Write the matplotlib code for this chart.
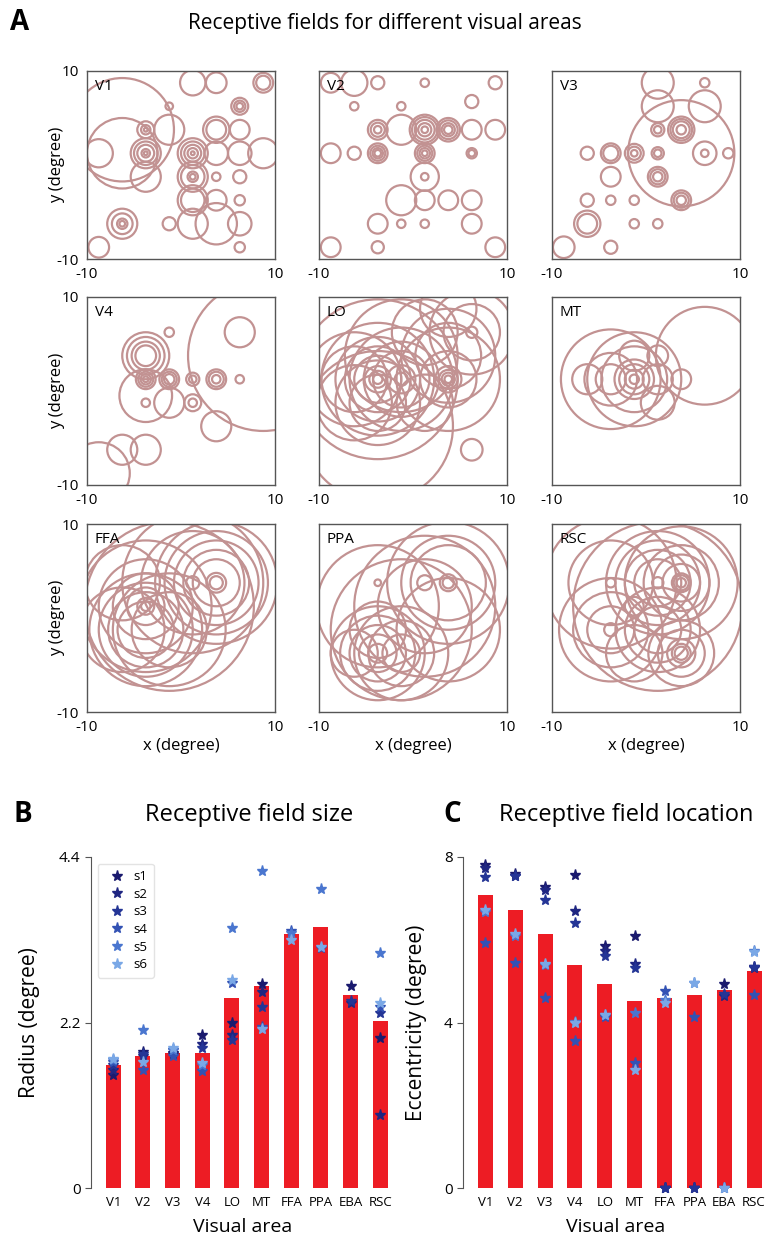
import numpy as np
import matplotlib
matplotlib.use("Agg")
from matplotlib import pyplot as plt
from matplotlib.patches import Circle

plt.rcParams['font.family'] = ['Open Sans', 'DejaVu Sans']

# receptive fields: (x centre, y centre, [radii]) in degrees
rf_V1 = [(-6.25, 3.75, [5.5]), (-6.25, 1.25, [3.75]), (-8.75, 1.25, [1.5]),
         (-3.75, 3.75, [0.9, 0.5, 0.2]), (-1.25, 3.75, [1.6]), (-1.25, 6.25, [0.4]),
         (-3.75, 1.25, [1.6, 1.25, 0.9, 0.45, 0.2]), (-3.75, -1.25, [1.6]),
         (1.25, 8.75, [1.35]), (3.75, 8.75, [1.1]), (8.75, 8.75, [1.05, 0.75]),
         (6.25, 6.25, [0.9, 0.6, 0.35]), (3.75, 3.75, [1.4, 1.05]), (6.25, 3.75, [1.05]),
         (1.25, 1.25, [1.6, 1.25, 0.9, 0.55, 0.2]), (3.75, 1.25, [1.25]),
         (6.25, 1.25, [1.25]), (8.75, 1.25, [1.6]), (1.25, -1.25, [1.6, 1.25, 0.55, 0.3]),
         (3.75, -1.25, [0.45]), (6.25, -1.25, [0.7]), (1.25, -3.75, [1.6, 1.25]),
         (3.75, -3.75, [1.1]), (6.25, -3.75, [0.55]), (3.75, -6.25, [2.2]),
         (1.25, -6.25, [1.6]), (-1.25, -6.25, [0.7]), (6.25, -6.25, [1.25]),
         (6.25, -8.75, [0.55]), (-6.25, -6.25, [1.6, 1.1, 0.55, 0.3]), (-8.75, -8.75, [1.1])]
rf_V2 = [(-8.75, 8.75, [1.05]), (-6.25, 8.75, [1.4]), (-3.75, 8.75, [0.7]),
         (1.25, 8.75, [0.45]), (8.75, 8.75, [0.7]), (-6.25, 6.25, [0.45]),
         (-1.25, 6.25, [0.45]), (6.25, 6.75, [0.7]), (-3.75, 3.75, [1.05, 0.75, 0.4]),
         (-1.25, 3.75, [1.6]), (1.25, 3.75, [1.6, 1.35, 1.05, 0.7, 0.35]),
         (3.75, 3.75, [1.25, 1.0, 0.7, 0.45]), (6.25, 3.75, [1.05]), (8.75, 3.75, [1.05]),
         (-8.75, 1.25, [1.05]), (-6.25, 1.25, [0.7]), (-3.75, 1.25, [1.05, 0.8, 0.55, 0.35]),
         (1.25, 1.25, [1.05, 0.8, 0.55, 0.3]), (6.25, 1.25, [0.55, 0.35]),
         (1.25, -1.25, [1.5, 0.4]), (-1.25, -3.75, [1.6]), (1.25, -3.75, [1.05]),
         (3.75, -3.75, [1.05]), (6.25, -3.75, [1.05]), (-3.75, -6.25, [1.05]),
         (-1.25, -6.25, [0.45]), (1.25, -6.25, [0.45]), (6.25, -6.25, [1.05]),
         (-8.75, -8.75, [1.05]), (-3.75, -8.75, [0.65]), (8.75, -8.75, [1.05])]
rf_V3 = [(1.25, 8.75, [1.7]), (6.25, 8.75, [0.5]), (1.25, 6.25, [1.7]), (6.25, 6.25, [1.7]),
         (3.75, 1.25, [5.65]), (1.25, 3.75, [0.7, 0.4]), (3.75, 3.75, [1.4, 1.15, 0.9, 0.5]),
         (-6.25, 1.25, [0.7]), (-3.75, 1.25, [1.05, 0.8]), (-1.25, 1.25, [1.0, 0.7, 0.35]),
         (1.25, 1.25, [0.65, 0.4]), (6.25, 1.25, [1.25, 0.4]), (8.75, 1.25, [0.55]),
         (-3.75, -1.25, [1.05]), (1.25, -1.25, [1.05, 0.8, 0.5]), (-6.25, -3.75, [0.7]),
         (-3.75, -3.75, [0.5]), (-1.25, -3.75, [0.5]), (3.75, -3.75, [1.05, 0.8, 0.5]),
         (-6.25, -6.25, [1.4, 1.05]), (-1.25, -6.25, [0.5]), (1.25, -6.25, [0.5]),
         (-8.75, -8.75, [1.15]), (-3.75, -8.75, [0.7])]
rf_V4 = [(8.75, 3.75, [8.0]), (6.25, 6.25, [1.6]), (-1.25, 6.25, [0.5]),
         (-3.75, 3.75, [2.5, 2.0, 1.5, 1.1]), (-3.75, 1.25, [1.05, 0.8, 0.55, 0.3]),
         (-1.25, 1.25, [1.05, 0.8, 0.55]), (1.25, 1.25, [0.7, 0.4]),
         (3.75, 1.25, [1.05, 0.8, 0.45]), (6.25, 1.25, [0.45]), (-3.75, -0.5, [2.8]),
         (-3.75, -1.25, [0.45]), (-1.25, -1.25, [1.6]), (1.25, -1.25, [0.9, 0.45]),
         (3.75, -3.75, [1.6]), (-6.25, -6.25, [1.6]), (-3.75, -6.25, [1.6]),
         (-8.75, -8.75, [3.3])]
rf_LO = [(-3.75, 1.25, [0.5, 0.9, 1.4, 2.5, 3.5, 4.5, 6.0, 8.5]),
         (-1.25, 1.25, [0.7, 1.5, 3.0, 4.0, 5.5]),
         (3.75, 1.25, [0.4, 0.7, 1.0, 1.4, 3.0, 5.5]), (3.75, 3.75, [3.5, 5.0]),
         (6.25, 6.25, [0.6, 3.0, 4.5]), (1.25, 6.25, [3.5]), (3.75, 8.75, [3.0]),
         (-3.75, -1.25, [3.0, 4.5]), (-6.25, 1.25, [3.5, 5.0]), (-1.25, 3.75, [6.0]),
         (-6.25, -1.25, [4.0]), (6.25, -6.25, [1.15]), (1.25, -1.25, [3.0]),
         (-3.75, -3.75, [8.0])]
rf_MT = [(6.25, 3.75, [5.2]), (-3.75, 1.25, [5.3, 2.8, 1.6]),
         (-1.25, 1.25, [5.0, 3.5, 2.1, 1.6, 1.0, 0.5]), (-6.25, 1.25, [1.6]),
         (1.25, 1.25, [1.6]), (3.75, 1.25, [1.05]), (-1.25, 3.75, [1.6]),
         (1.25, 3.75, [1.1]), (1.25, -1.25, [1.8])]
rf_FFA = [(1.25, 3.75, [0.7, 5.5, 7.5]), (3.75, 3.75, [0.7, 1.05, 2.5, 3.5, 4.5, 5.5, 6.5]),
          (-3.75, 1.25, [0.5, 0.9, 2.0, 3.5, 5.0, 7.0]), (-3.75, -1.25, [3.0, 4.0, 5.0, 6.0]),
          (-6.25, -1.25, [4.5]), (-1.25, -1.25, [4.0, 6.0]), (-1.25, 1.25, [9.0]),
          (-6.25, 3.75, [4.0])]
rf_PPA = [(-3.75, 3.75, [0.35]), (1.25, 3.75, [0.8]), (3.75, 3.75, [0.9, 0.6, 4.0, 5.0, 6.5]),
          (-3.75, 1.25, [6.5]), (1.25, 1.25, [5.0, 7.5]),
          (-3.75, -3.75, [1.0, 2.0, 3.0, 4.0, 5.0]), (-1.25, -3.75, [2.0, 3.5, 5.0]),
          (-6.25, -3.75, [2.5]), (-1.25, -1.25, [7.5]), (3.75, -1.25, [5.5]),
          (-3.75, -1.25, [3.0])]
rf_RSC = [(-3.75, 3.75, [0.5, 4.5, 7.0]), (1.25, 3.75, [0.6, 2.5, 3.5, 4.5, 5.5]),
          (3.75, 3.75, [0.5, 0.8, 1.0, 2.0, 3.0, 4.0, 6.0]), (1.25, -1.25, [2.5, 3.5, 4.5]),
          (-3.75, -1.25, [0.7, 2.5, 4.0, 5.5]), (3.75, -3.75, [0.7, 1.0, 1.5, 2.5, 3.5]),
          (-1.25, -3.75, [3.0]), (1.25, 1.25, [9.0]), (-1.25, 1.25, [1.0])]

rf_names = ['V1', 'V2', 'V3', 'V4', 'LO', 'MT', 'FFA', 'PPA', 'RSC']
rf_all = [rf_V1, rf_V2, rf_V3, rf_V4, rf_LO, rf_MT, rf_FFA, rf_PPA, rf_RSC]

areas = ['V1', 'V2', 'V3', 'V4', 'LO', 'MT', 'FFA', 'PPA', 'EBA', 'RSC']
radius_mean = [1.63, 1.76, 1.79, 1.80, 2.52, 2.69, 3.37, 3.47, 2.57, 2.22]
ecc_mean = [7.07, 6.73, 6.14, 5.40, 4.94, 4.51, 4.59, 4.67, 4.79, 5.25]

nan = np.nan
subjects = ['s1', 's2', 's3', 's4', 's5', 's6']
radius_subj = {
    's1': [1.50, 1.81, 1.80, 2.03, 2.19, 2.71, nan, nan, 2.68, 1.99],
    's2': [1.57, 1.75, 1.78, 1.92, 2.03, 2.60, nan, nan, 2.46, 0.97],
    's3': [1.63, 1.78, 1.83, 1.86, 1.97, 2.40, nan, nan, 2.48, 2.32],
    's4': [1.67, 1.57, 1.76, 1.56, 2.73, 2.14, 3.41, 3.19, nan, 2.40],
    's5': [1.70, 2.10, 1.84, 1.64, 3.46, 4.22, 3.39, 3.97, nan, 3.13],
    's6': [1.71, 1.67, 1.86, 1.66, 2.76, 2.12, 3.30, 3.21, nan, 2.46],
}
ecc_subj = {
    's1': [7.81, 7.59, 7.27, 7.57, 5.85, 6.10, 0.0, 0.0, 4.93, 5.35],
    's2': [7.73, 7.55, 7.21, 6.69, 5.72, 5.41, 0.0, 0.0, 4.65, 5.31],
    's3': [7.52, 7.53, 6.95, 6.40, 5.60, 5.31, 0.0, 0.0, 4.70, 5.33],
    's4': [5.92, 5.44, 4.59, 3.56, 4.13, 3.02, 4.77, 4.13, 0.0, 4.67],
    's5': [6.67, 6.08, 5.39, 4.01, 4.17, 4.24, 4.55, 4.95, 0.0, 5.72],
    's6': [6.72, 6.15, 5.42, 4.00, 4.19, 2.85, 4.48, 4.95, 0.0, 5.70],
}
subj_colors = ['#1a1a6e', '#1f2682', '#243596', '#3352b4', '#4a76cf', '#7aa8e6']

W, H = 771, 1247
fig = plt.figure(figsize=(W / 100, H / 100), dpi=100)

def ax_px(left, top, w, h):
    return fig.add_axes([left / W, 1 - (top + h) / H, w / W, h / H])

col_left = [87, 319, 552]
row_top = [71, 297, 524]
box = 188
circ_col = '#c29292'

for k, (name, rf) in enumerate(zip(rf_names, rf_all)):
    r_i, c_i = divmod(k, 3)
    ax = ax_px(col_left[c_i], row_top[r_i], box, box)
    for cx, cy, radii in rf:
        for rr in radii:
            ax.add_patch(Circle((cx, cy), rr, fill=False, ec=circ_col, lw=1.6))
    ax.set_xlim(-10, 10)
    ax.set_ylim(-10, 10)
    ax.set_aspect('equal')
    for s in ax.spines.values():
        s.set_color('#555555')
        s.set_linewidth(1.0)
    ax.set_xticks([-10, 10])
    ax.set_xticklabels(['-10', '10'], fontsize=11)
    ax.tick_params(length=0, pad=6)
    if c_i == 0:
        ax.set_yticks([-10, 10])
        ax.set_yticklabels(['-10', '10'], fontsize=11)
        ax.set_ylabel('y (degree)', fontsize=12, labelpad=-6)
    else:
        ax.set_yticks([])
    if r_i == 2:
        ax.set_xlabel('x (degree)', fontsize=12, labelpad=2)
    ax.text(0.04, 0.96, name, transform=ax.transAxes, ha='left', va='top', fontsize=11)

fig.text(385 / W, 1 - 24 / H, 'Receptive fields for different visual areas',
         ha='center', va='center', fontsize=15)
fig.text(10 / W, 1 - 22 / H, 'A', ha='left', va='center', fontsize=20, fontweight='bold')
fig.text(14 / W, 1 - 815 / H, 'B', ha='left', va='center', fontsize=20, fontweight='bold')
fig.text(443 / W, 1 - 815 / H, 'C', ha='left', va='center', fontsize=20, fontweight='bold')
fig.text(249 / W, 1 - 815 / H, 'Receptive field size', ha='center', va='center', fontsize=17)
fig.text(626 / W, 1 - 815 / H, 'Receptive field location', ha='center', va='center',
         fontsize=17)

x = np.arange(len(areas))

def bar_panel(ax, means, subj, ymax, yticks, yticklabels, ylabel, legend, lpad):
    ax.bar(x, means, width=0.5, color='#ed1c24', zorder=1)
    for c, s in zip(subj_colors, subjects):
        ax.plot(x, subj[s], ls='none', marker='*', ms=8, color=c, mec=c, label=s,
                zorder=3, clip_on=False)
    ax.set_xlim(-0.75, 9.5)
    ax.set_ylim(0, ymax)
    ax.set_yticks(yticks)
    ax.set_yticklabels(yticklabels, fontsize=11)
    ax.set_xticks(x)
    ax.set_xticklabels(areas, fontsize=9.5)
    ax.tick_params(axis='x', length=0, pad=6)
    ax.tick_params(axis='y', length=4, color='#555555')
    for sp in ['top', 'right', 'bottom']:
        ax.spines[sp].set_visible(False)
    ax.spines['left'].set_color('#555555')
    ax.set_ylabel(ylabel, fontsize=15, labelpad=lpad)
    ax.set_xlabel('Visual area', fontsize=14, labelpad=6)
    if legend:
        ax.legend(loc='upper left', fontsize=9.5, handletextpad=0.2, borderpad=0.5,
                  labelspacing=0.35, edgecolor='#dddddd', bbox_to_anchor=(0.0, 1.0))

axB = ax_px(91, 857, 304, 331)
bar_panel(axB, radius_mean, radius_subj, 4.4, [0, 2.2, 4.4], ['0', '2.2', '4.4'],
          'Radius (degree)', True, 14)
axC = ax_px(463, 857, 306, 331)
bar_panel(axC, ecc_mean, ecc_subj, 8, [0, 4, 8], ['0', '4', '8'],
          'Eccentricity (degree)', False, 12)

fig.savefig('out.png', dpi=100)
